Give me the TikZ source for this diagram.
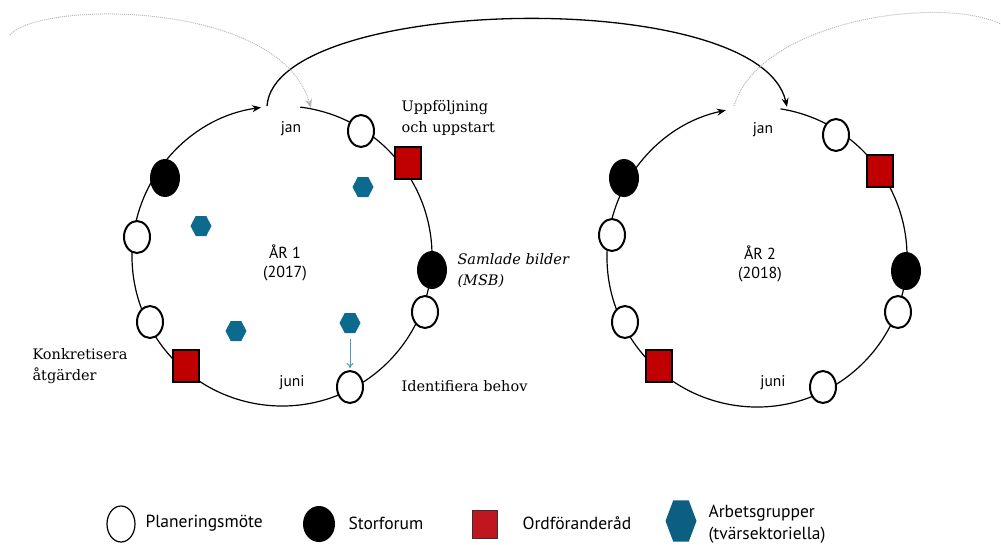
\documentclass[tikz,border=0pt]{standalone}
\usepackage{fontspec}
\setmainfont{DejaVu Serif}
\newfontfamily\sansf{PT Sans}
\newfontfamily\legf{PT Sans}
\usetikzlibrary{shapes.geometric,arrows.meta}
\definecolor{ordred}{HTML}{C00000}
\definecolor{legred}{HTML}{C0161F}
\definecolor{hexblue}{HTML}{0D6A8F}
\definecolor{arrblue}{HTML}{4A9AB8}
\definecolor{dotgray}{HTML}{B8B8B8}
\tikzset{
  ring/.style={line width=1.2pt,-{Stealth[length=9pt,width=7pt]}},
  bigarc/.style={line width=1.3pt,-{Stealth[length=9pt,width=7pt]}},
  dotarc/.style={dotgray,densely dotted,line width=1pt},
  plan/.style={ellipse,draw,line width=2pt,fill=white,minimum width=26pt,minimum height=32pt,inner sep=0pt},
  storf/.style={ellipse,fill=black,minimum width=30pt,minimum height=38pt,inner sep=0pt},
  ordf/.style={rectangle,draw,line width=1.5pt,fill=ordred,minimum width=26pt,minimum height=32pt,inner sep=0pt},
  arb/.style={regular polygon,regular polygon sides=6,fill=hexblue,minimum size=21pt,inner sep=0pt,yscale=1.1,transform shape},
  mon/.style={font=\sansf\fontsize{15.5}{17}\selectfont},
  yr/.style={font=\sansf\fontsize{16}{19.5}\selectfont,align=center},
  lab/.style={font=\fontsize{14.5}{21}\selectfont,align=left,anchor=west},
  leg/.style={font=\legf\fontsize{17.5}{22}\selectfont,align=left,anchor=west},
}
\begin{document}
\begin{tikzpicture}[x=1pt,y=-1pt]
\useasboundingbox (0,0) rectangle (1001,544);
% rings
\draw[ring] (282,256) ++(277:150) coordinate (r1s) arc[start angle=277,end angle=622,radius=150] coordinate (r1e);
\draw[ring] (757,257) ++(279:150) coordinate (r2s) arc[start angle=279,end angle=618,radius=150] coordinate (r2e);
% free ends of connectors
\coordinate (y1out) at (267,106);
\coordinate (y2in) at (787,107);
\coordinate (g1s) at (10,35);
\coordinate (y1in) at (311,108);
\coordinate (y2out) at (734,106);
\coordinate (g2e) at (1001,24);
\draw[bigarc] (y1out) .. controls (275,-5) and (760,-15) .. (y2in);
\draw[dotarc,-{Stealth[length=9pt,width=7pt]}] (g1s) .. controls (40,0) and (280,0) .. (y1in);
\draw[dotarc] (y2out) .. controls (760,20) and (940,-5) .. (g2e);
% ring 1 nodes
\node[plan] (p1a) at (361,131) {};
\node[ordf] (o1a) at (408,163) {};
\node[storf] (s1a) at (432,270) {};
\node[plan] (p1b) at (425,312) {};
\node[plan] (p1c) at (350,387) {};
\node[ordf] (o1b) at (186,366) {};
\node[plan] (p1d) at (150,322) {};
\node[plan] (p1e) at (137,237) {};
\node[storf] (s1b) at (165,178) {};
\node[arb] (h1) at (201,226) {};
\node[arb] (h2) at (363,187) {};
\node[arb] (h3) at (236,331) {};
\node[arb] (h4) at (350,323) {};
\draw[arrblue,line width=1pt,-{To[length=5pt,width=7pt]},shorten <=6pt,shorten >=2pt] (h4) -- (p1c);
% ring 2 nodes
\node[plan] (p2a) at (836,135) {};
\node[ordf] (o2a) at (880,171) {};
\node[storf] (s2a) at (906,271) {};
\node[plan] (p2b) at (898,312) {};
\node[plan] (p2c) at (823,387) {};
\node[ordf] (o2b) at (659,366) {};
\node[plan] (p2d) at (625,322) {};
\node[plan] (p2e) at (612,235) {};
\node[storf] (s2b) at (624,178) {};
% texts
\node[mon] (jan1) at (291,129) {jan};
\node[mon] (juni1) at (292,383) {juni};
\node[mon] (jan2) at (763,130) {jan};
\node[mon] (juni2) at (773,383) {juni};
\node[yr] (ar1) at (285,263) {ÅR 1\\(2017)};
\node[yr] (ar2) at (760,264) {ÅR 2\\(2018)};
\node[lab] (uppf) at (398,118) {Uppföljning\\och uppstart};
\node[lab,font=\itshape\fontsize{14.5}{21}\selectfont] (saml) at (454,271) {Samlade bilder\\(MSB)};
\node[lab] (ident) at (398,386) {Identifiera behov};
\node[lab] (konk) at (29,366) {Konkretisera\\åtgärder};
% legend
\node[plan,minimum width=28pt,minimum height=36pt,line width=1.2pt] (lp) at (121,524) {};
\node[leg] (lpt) at (142,523) {Planeringsmöte};
\node[storf,minimum width=32pt,minimum height=36pt] (ls) at (319,524) {};
\node[leg] (lst) at (345,523) {Storforum};
\node[rectangle,draw=black!80,line width=0.8pt,fill=legred,minimum width=25pt,minimum height=28pt,inner sep=0pt] (lo) at (485,524) {};
\node[leg] (lot) at (519,523) {Ordföranderåd};
\node[arb,minimum size=31pt,yscale=1.4,fill=hexblue!90!black] (la) at (681,521) {};
\node[leg] (lat) at (705,524) {Arbetsgrupper\\(tvärsektoriella)};
\end{tikzpicture}
\end{document}
